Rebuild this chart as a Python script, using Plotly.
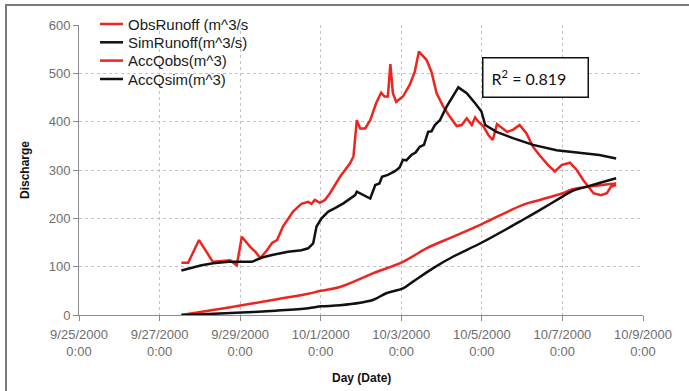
import plotly.graph_objects as go

# ---------------- data ----------------
obs_t = ["2000-09-27 13:00", "2000-09-27 17:00", "2000-09-27 23:30", "2000-09-28 07:45", "2000-09-28 18:00",
         "2000-09-28 22:00", "2000-09-29 01:00", "2000-09-29 06:00", "2000-09-29 09:00", "2000-09-29 12:00",
         "2000-09-29 16:00", "2000-09-29 19:00", "2000-09-29 22:00", "2000-09-30 01:30", "2000-09-30 07:30",
         "2000-09-30 12:30", "2000-09-30 16:30", "2000-09-30 18:30", "2000-09-30 20:30", "2000-09-30 23:30",
         "2000-10-01 02:30", "2000-10-01 05:30", "2000-10-01 11:30", "2000-10-01 17:30", "2000-10-01 19:30",
         "2000-10-01 21:30", "2000-10-01 23:30", "2000-10-02 02:30", "2000-10-02 05:30", "2000-10-02 09:00",
         "2000-10-02 12:00", "2000-10-02 14:00", "2000-10-02 16:00", "2000-10-02 17:30", "2000-10-02 19:00",
         "2000-10-02 21:00", "2000-10-03 01:00", "2000-10-03 05:00", "2000-10-03 08:00", "2000-10-03 10:30",
         "2000-10-03 15:00", "2000-10-03 18:00", "2000-10-03 21:00", "2000-10-04 01:00", "2000-10-04 05:00",
         "2000-10-04 09:00", "2000-10-04 12:00", "2000-10-04 15:00", "2000-10-04 18:00", "2000-10-04 20:00",
         "2000-10-04 22:00", "2000-10-05 01:00", "2000-10-05 04:00", "2000-10-05 06:30", "2000-10-05 09:00",
         "2000-10-05 12:00", "2000-10-05 15:00", "2000-10-05 18:30", "2000-10-05 22:30", "2000-10-06 02:30",
         "2000-10-06 06:30", "2000-10-06 10:30", "2000-10-06 15:30", "2000-10-06 19:30", "2000-10-06 23:30",
         "2000-10-07 04:30", "2000-10-07 08:30", "2000-10-07 12:30", "2000-10-07 18:30", "2000-10-07 23:00",
         "2000-10-08 02:30", "2000-10-08 05:00", "2000-10-08 08:00"]
obs_v = [108, 108, 155, 110, 113,
         103, 162, 141, 131, 118,
         134, 149, 155, 183, 214,
         230, 234, 230, 238, 232,
         238, 252, 286, 314, 328,
         403, 386, 386, 403, 438,
         460, 452, 452, 519, 459,
         441, 452, 476, 503, 545,
         528, 503, 459, 431, 410,
         391, 393, 407, 393, 409,
         400, 390, 372, 362, 395,
         386, 379, 383, 393, 376,
         348, 330, 310, 297, 310,
         315, 300, 279, 252, 248,
         252, 266, 269]

sim_t = ["2000-09-27 13:00", "2000-09-27 19:00", "2000-09-28 01:00", "2000-09-28 08:00", "2000-09-28 17:00",
         "2000-09-29 07:00", "2000-09-29 13:00", "2000-09-29 19:00", "2000-09-30 04:30", "2000-09-30 12:30",
         "2000-09-30 16:30", "2000-09-30 19:30", "2000-09-30 21:30", "2000-10-01 00:30", "2000-10-01 04:30",
         "2000-10-01 08:30", "2000-10-01 13:30", "2000-10-01 20:30", "2000-10-01 21:30", "2000-10-02 05:30",
         "2000-10-02 08:30", "2000-10-02 11:00", "2000-10-02 12:30", "2000-10-02 16:00", "2000-10-02 20:00",
         "2000-10-02 23:00", "2000-10-03 01:00", "2000-10-03 03:00", "2000-10-03 06:00", "2000-10-03 08:30",
         "2000-10-03 11:00", "2000-10-03 13:30", "2000-10-03 16:00", "2000-10-03 18:00", "2000-10-03 20:00",
         "2000-10-03 23:00", "2000-10-04 03:00", "2000-10-04 10:00", "2000-10-04 15:00", "2000-10-04 20:00",
         "2000-10-04 23:45", "2000-10-05 02:00", "2000-10-05 08:45", "2000-10-05 18:30", "2000-10-06 06:30",
         "2000-10-06 20:30", "2000-10-07 10:30", "2000-10-07 22:00", "2000-10-08 08:00"]
sim_v = [92, 97, 103, 107, 110,
         110, 119, 124, 131, 134,
         138, 148, 183, 200, 214,
         221, 231, 248, 255, 241,
         269, 272, 286, 290, 297,
         305, 321, 320, 331, 336,
         348, 352, 379, 380, 393,
         403, 431, 471, 459, 438,
         421, 393, 379, 366, 352,
         341, 336, 331, 324]

accobs_t = ["2000-09-27 13:00", "2000-09-28 05:00", "2000-09-29 01:00", "2000-09-29 21:00", "2000-09-30 16:30",
            "2000-10-01 00:00", "2000-10-01 11:30", "2000-10-02 07:00", "2000-10-03 01:00", "2000-10-03 15:00",
            "2000-10-04 07:00", "2000-10-05 00:00", "2000-10-06 00:30", "2000-10-06 10:30", "2000-10-07 00:00",
            "2000-10-07 06:00", "2000-10-08 08:00"]
accobs_v = [0, 9, 20, 32, 44,
            50, 58, 86, 110, 138,
            162, 188, 228, 238, 252,
            260, 272]

accsim_t = ["2000-09-27 13:00", "2000-09-28 05:00", "2000-09-29 01:00", "2000-09-29 21:00", "2000-09-30 16:30",
            "2000-10-01 00:30", "2000-10-01 11:30", "2000-10-02 07:00", "2000-10-02 15:00", "2000-10-03 01:00",
            "2000-10-03 07:00", "2000-10-03 19:00", "2000-10-04 07:00", "2000-10-05 00:00", "2000-10-06 00:30",
            "2000-10-06 10:30", "2000-10-07 00:00", "2000-10-07 06:00", "2000-10-07 14:00", "2000-10-07 23:00",
            "2000-10-08 08:00"]
accsim_v = [0, 2, 5, 9, 14,
            18, 20, 31, 45, 55,
            69, 97, 121, 150, 197,
            217, 245, 257, 265, 274,
            283]

series_names = ["ObsRunoff (m^3/s", "SimRunoff(m^3/s)", "AccQobs(m^3)", "AccQsim(m^3)"]

x_tickvals = ["2000-09-25", "2000-09-27", "2000-09-29", "2000-10-01", "2000-10-03",
              "2000-10-05", "2000-10-07", "2000-10-09"]
x_ticktext = ["9/25/2000<br>0:00", "9/27/2000<br>0:00", "9/29/2000<br>0:00", "10/1/2000<br>0:00",
              "10/3/2000<br>0:00", "10/5/2000<br>0:00", "10/7/2000<br>0:00", "10/9/2000<br>0:00"]
y_tickvals = [0, 100, 200, 300, 400, 500, 600]

RED = "#ee2420"
BLACK = "#111111"
colors = [RED, BLACK, RED, BLACK]
shapes_kind = ["linear", "linear", "spline", "spline"]

fig = go.Figure()
for t, v, name, col, shp in zip([obs_t, sim_t, accobs_t, accsim_t],
                                [obs_v, sim_v, accobs_v, accsim_v],
                                series_names, colors, shapes_kind):
    fig.add_trace(go.Scatter(x=t, y=v, name=name, mode="lines", showlegend=False,
                             line=dict(color=col, width=2.5, shape=shp)))

W, H = 689, 391
L, R, T, B = 79, 46, 25, 76
pw, ph = W - L - R, H - T - B


def px(xp):
    return (xp - L) / pw


def py(yp):
    return (H - B - yp) / ph


annotations = [
    dict(text="<b>Day (Date)</b>", xref="paper", yref="paper", x=px(361), y=py(378),
         showarrow=False, font=dict(size=12, color="#111111"), xanchor="center", yanchor="middle"),
    dict(text="<b>Discharge</b>", xref="paper", yref="paper", x=px(25), y=py(170),
         showarrow=False, textangle=-90, font=dict(size=12, color="#111111"),
         xanchor="center", yanchor="middle"),
    dict(text="R<sup>2</sup> = 0.819", xref="paper", yref="paper", x=px(535.5), y=py(77),
         showarrow=False, xanchor="center", yanchor="middle",
         font=dict(size=16, color="#111111", family="Lato, Liberation Sans, sans-serif"),
         bgcolor="white", bordercolor="#111111", borderwidth=1.5, borderpad=8,
         width=88, height=22, align="left"),
]

shapes = [
    dict(type="line", xref="paper", yref="paper", x0=px(5), x1=px(700), y0=py(5), y1=py(5),
         line=dict(color="#7a7a7a", width=2)),
    dict(type="line", xref="paper", yref="paper", x0=px(6), x1=px(6), y0=py(5), y1=py(400),
         line=dict(color="#7a7a7a", width=2)),
    # legend background (covers the grid like the reference's legend box)
    dict(type="rect", xref="paper", yref="paper", x0=px(95), x1=px(272), y0=py(13), y1=py(89),
         fillcolor="white", line=dict(width=0), layer="between"),
]

# legend entries (key line + real text)
row_y = [24, 42.3, 60.6, 79]
for name, col, ry in zip(series_names, colors, row_y):
    shapes.append(dict(type="line", xref="paper", yref="paper", x0=px(100), x1=px(123),
                       y0=py(ry), y1=py(ry), line=dict(color=col, width=2.5), layer="above"))
    annotations.append(dict(text=name, xref="paper", yref="paper", x=px(126), y=py(ry),
                            xanchor="left", yanchor="middle", showarrow=False,
                            font=dict(size=15, color="#1a1a1a",
                                      family="Liberation Sans, Arial, sans-serif")))

fig.update_layout(
    width=W, height=H,
    margin=dict(l=L, r=R, t=T, b=B, pad=0),
    paper_bgcolor="white", plot_bgcolor="white",
    font=dict(family="Liberation Sans, Arial, sans-serif", color="#6e6e6e", size=13),
    showlegend=False,
    xaxis=dict(type="date", range=["2000-09-25", "2000-10-09"],
               tickmode="array", tickvals=x_tickvals, ticktext=x_ticktext,
               showgrid=True, gridcolor="#c4c4c4", griddash="dot", gridwidth=1,
               showline=True, linecolor="#8a8a8a", linewidth=1,
               ticks="outside", ticklen=5, tickcolor="#8a8a8a", ticklabelstandoff=2,
               zeroline=False, tickfont=dict(size=13, color="#6e6e6e")),
    yaxis=dict(range=[0, 600], tickmode="array", tickvals=y_tickvals,
               showgrid=True, gridcolor="#c4c4c4", griddash="dot", gridwidth=1,
               showline=True, linecolor="#8a8a8a", linewidth=1,
               ticks="outside", ticklen=5, tickcolor="#8a8a8a",
               zeroline=False, tickfont=dict(size=13, color="#6e6e6e")),
    annotations=annotations,
    shapes=shapes,
)

fig.write_html("out.html")
